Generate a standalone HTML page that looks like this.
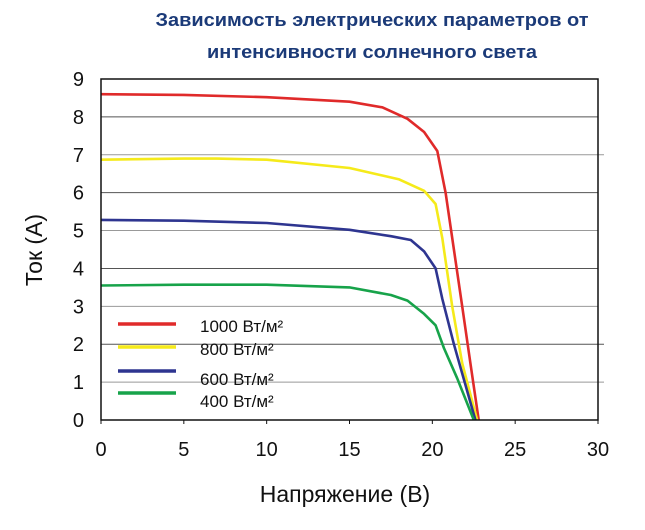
<!DOCTYPE html>
<html><head><meta charset="utf-8"><style>
html,body{margin:0;padding:0;background:#fff}
svg{display:block;font-family:"Liberation Sans",sans-serif}
</style></head><body>
<svg id="chart" width="645" height="530" viewBox="0 0 645 530">
<text x="372" y="26" text-anchor="middle" font-size="18" font-weight="bold" fill="#1b3a78" textLength="433" lengthAdjust="spacingAndGlyphs">Зависимость электрических параметров от</text>
<text x="372" y="58" text-anchor="middle" font-size="18" font-weight="bold" fill="#1b3a78" textLength="330" lengthAdjust="spacingAndGlyphs">интенсивности солнечного света</text>
<g id="grid"></g>
<g id="series"></g>
<rect x="101" y="79" width="497" height="341" fill="none" stroke="#111" stroke-width="1.5"/>
<g id="ticks"></g>
<g id="legend"></g>
<text x="345" y="502" text-anchor="middle" font-size="23" fill="#111">Напряжение (В)</text>
<text transform="translate(42,250) rotate(-90)" text-anchor="middle" font-size="23" fill="#111">Ток (A)</text>
</svg>
<script>
const xTicks = [0,5,10,15,20,25,30];
const yTicks = [0,1,2,3,4,5,6,7,8,9];
const seriesNames = ["1000 Вт/м²","800 Вт/м²","600 Вт/м²","400 Вт/м²"];
const seriesColors = ["#e02a2a","#f5ea1a","#2e3590","#17a34a"];
const v1000 = [0,5,10,15,17,18.5,19.5,20.3,20.8,21.3,21.8,22.3,22.8];
const i1000 = [8.6,8.58,8.52,8.4,8.25,7.95,7.6,7.1,6.0,4.5,3.0,1.5,0];
const v800 = [0,5,7,10,15,18,19.5,20.2,20.6,21.2,21.8,22.7];
const i800 = [6.87,6.9,6.9,6.87,6.65,6.35,6.05,5.7,4.8,3.0,1.5,0];
const v600 = [0,5,10,15,17.5,18.7,19.5,20.2,20.6,21.3,22.6];
const i600 = [5.28,5.26,5.2,5.02,4.85,4.75,4.45,4.0,3.2,2.0,0];
const v400 = [0,5,10,15,17.5,18.5,19.5,20.2,20.7,21.5,22.5];
const i400 = [3.55,3.57,3.57,3.5,3.3,3.15,2.8,2.5,1.9,1.1,0];
const X0=101,X1=598,Y0=420,Y1=79;
const sx=v=>X0+(v-0)/(30-0)*(X1-X0);
const sy=v=>Y0-(v-0)/(9-0)*(Y0-Y1);
const NS="http://www.w3.org/2000/svg";
function mk(tag,attrs,parent){const e=document.createElementNS(NS,tag);for(const k in attrs)e.setAttribute(k,attrs[k]);parent.appendChild(e);return e;}
const grid=document.getElementById('grid'),ticks=document.getElementById('ticks'),series=document.getElementById('series'),legend=document.getElementById('legend');
yTicks.forEach(t=>{
  if(t>0&&t<9){const ext=(t===7||t===2||t===1)?6:0;
    const l=mk('line',{x1:X0,x2:X1+ext,y1:sy(t),y2:sy(t),stroke:(t%2?'#999':'#555'),'stroke-width':1},grid);
    
    }
  const tx=mk('text',{x:84,y:sy(t)+7,'text-anchor':'end','font-size':20,fill:'#111'},ticks);
  tx.textContent=t;
  
  
});
xTicks.forEach(t=>{
  const l=mk('line',{x1:sx(t),x2:sx(t),y1:Y0,y2:Y0+4,stroke:'#111','stroke-width':1},ticks);
  
  
  const tx=mk('text',{x:sx(t),y:456,'text-anchor':'middle','font-size':20,fill:'#111'},ticks);
  tx.textContent=t;
  
  
});
const data=[[v1000,i1000],[v800,i800],[v600,i600],[v400,i400]];
const lineY=[324,347,371,393], textY=[332,355,385,407];
data.forEach((d,k)=>{
  const pts=d[0].map((v,j)=>sx(v).toFixed(1)+','+sy(d[1][j]).toFixed(1)).join(' ');
  const p=mk('polyline',{points:pts,fill:'none',stroke:seriesColors[k],'stroke-width':2.6,'stroke-linejoin':'round'},series);
  
  
  const ll=mk('line',{x1:118,x2:176,y1:lineY[k],y2:lineY[k],stroke:seriesColors[k],'stroke-width':3.5},legend);
  
  
  const lt=mk('text',{x:200,y:textY[k],'font-size':17,fill:'#111'},legend);
  lt.textContent=seriesNames[k];
  
  
});
</script>
</body></html>
